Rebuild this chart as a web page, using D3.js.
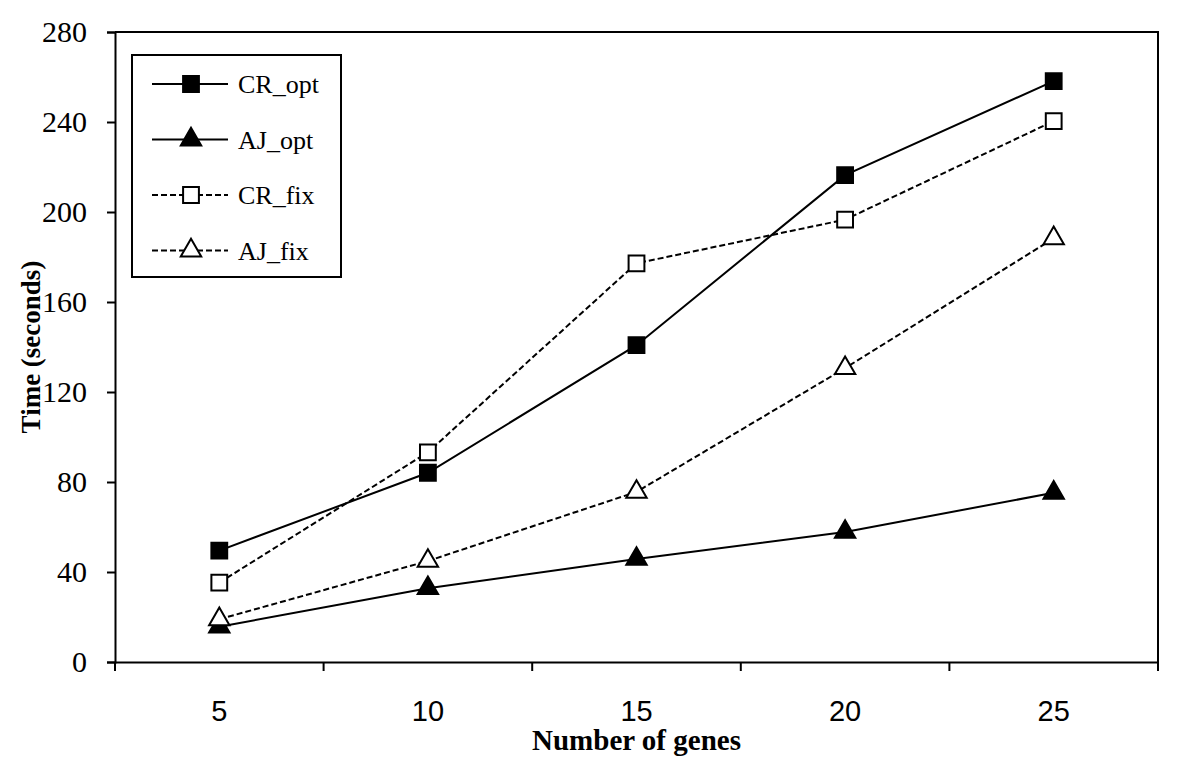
<!DOCTYPE html>
<html>
<head>
<meta charset="utf-8">
<script src="https://cdn.jsdelivr.net/npm/d3@7"></script>
<style>
  body { margin: 0; background: #fff; }
  text { fill: #000; }
</style>
</head>
<body>
<script>
var width = 1200,
    height = 771;

// data
var genes = ["5", "10", "15", "20", "25"];
var crOpt = [49.5, 84.1, 140.8, 216.4, 258.2];
var ajOpt = [15.7, 32.8, 45.8, 57.8, 75.2];
var crFix = [35.3, 93.2, 177.2, 196.6, 240.4];
var ajFix = [19.0, 44.9, 75.6, 130.6, 188.3];
var yTicks = [0, 40, 80, 120, 160, 200, 240, 280];

var series = [
  {name: "CR_opt", values: crOpt, dash: null, symbol: d3.symbolSquare, fill: "#000"},
  {name: "AJ_opt", values: ajOpt, dash: null, symbol: d3.symbolTriangle, fill: "#000"},
  {name: "CR_fix", values: crFix, dash: "6,3", symbol: d3.symbolSquare, fill: "#fff"},
  {name: "AJ_fix", values: ajFix, dash: "6,3", symbol: d3.symbolTriangle, fill: "#fff"}
];

var margin = {left: 115, right: 42, top: 32, bottom: 109};

var svg = d3.select('body').append('svg')
    .attr('width', width)
    .attr('height', height);

var x = d3.scaleBand()
    .domain(genes)
    .range([margin.left, width - margin.right])
    .padding(0);

var y = d3.scaleLinear()
    .domain([0, 280])
    .range([height - margin.bottom, margin.top]);

var serif = "'Liberation Serif', 'Times New Roman', serif";
var sans = "'Liberation Sans', Arial, sans-serif";

/* frame: top and right edges */
svg.append('path')
    .attr('d', 'M' + x.range()[0] + ',' + y(280) + 'H' + x.range()[1] + 'V' + y(0))
    .attr('fill', 'none')
    .attr('stroke', '#000')
    .attr('stroke-width', 2);

/* y axis */
var yAxis = svg.append('g')
    .attr('transform', 'translate(' + margin.left + ',0)')
    .call(d3.axisLeft(y).tickValues(yTicks).tickSize(8).tickPadding(20));
yAxis.select('.domain').attr('stroke-width', 2);
yAxis.selectAll('.tick line').attr('stroke-width', 2);
yAxis.selectAll('.tick text')
    .style('font-family', serif)
    .style('font-size', '30px');

/* x axis: labels centred in bands, ticks on band edges */
var xAxis = svg.append('g')
    .attr('transform', 'translate(0,' + y(0) + ')')
    .call(d3.axisBottom(x).tickSize(0).tickPadding(38));
xAxis.select('.domain').attr('stroke-width', 2);
xAxis.selectAll('.tick text')
    .style('font-family', sans)
    .style('font-size', '29px');

var edges = genes.map(function(g) { return x(g); }).concat([x.range()[1]]);
svg.append('g').selectAll('line')
    .data(edges)
    .enter().append('line')
    .attr('x1', function(d) { return d; })
    .attr('x2', function(d) { return d; })
    .attr('y1', y(0))
    .attr('y2', y(0) + 9)
    .attr('stroke', '#000')
    .attr('stroke-width', 2);

/* axis titles */
svg.append('text')
    .attr('x', x.range()[0] + (x.range()[1] - x.range()[0]) / 2)
    .attr('y', 750)
    .attr('text-anchor', 'middle')
    .style('font-family', serif)
    .style('font-weight', 'bold')
    .style('font-size', '29px')
    .text('Number of genes');

svg.append('text')
    .attr('transform', 'translate(40,' + y(140) + ') rotate(-90)')
    .attr('text-anchor', 'middle')
    .style('font-family', serif)
    .style('font-weight', 'bold')
    .style('font-size', '27px')
    .text('Time (seconds)');

/* lines and markers */
var line = d3.line()
    .x(function(d, i) { return x(genes[i]) + x.bandwidth() / 2; })
    .y(function(d) { return y(d); });

var sym = function(s) { return d3.symbol().type(s.symbol).size(s.symbol === d3.symbolSquare ? 250 : 180); };

series.forEach(function(s) {
  svg.append('path')
      .attr('d', line(s.values))
      .attr('fill', 'none')
      .attr('stroke', '#000')
      .attr('stroke-width', 2)
      .attr('stroke-dasharray', s.dash);

  svg.append('g').selectAll('path')
      .data(s.values)
      .enter().append('path')
      .attr('d', sym(s))
      .attr('transform', function(d, i) {
        return 'translate(' + (x(genes[i]) + x.bandwidth() / 2) + ',' + y(d) + ')';
      })
      .attr('fill', s.fill)
      .attr('stroke', '#000')
      .attr('stroke-width', 2);
});

/* legend */
var legend = svg.append('g');
legend.append('rect')
    .attr('x', 132).attr('y', 55)
    .attr('width', 209).attr('height', 222)
    .attr('fill', '#fff')
    .attr('stroke', '#000')
    .attr('stroke-width', 2);

var item = legend.selectAll('g.item')
    .data(series)
    .enter().append('g')
    .attr('class', 'item')
    .attr('transform', function(d, i) { return 'translate(0,' + (84 + i * 55.5) + ')'; });

item.append('line')
    .attr('x1', 152).attr('x2', 228)
    .attr('stroke', '#000')
    .attr('stroke-width', 2)
    .attr('stroke-dasharray', function(d) { return d.dash; });

item.append('path')
    .attr('d', function(d) { return sym(d)(); })
    .attr('transform', 'translate(191,0)')
    .attr('fill', function(d) { return d.fill; })
    .attr('stroke', '#000')
    .attr('stroke-width', 2);

item.append('text')
    .attr('x', 238)
    .attr('y', 9)
    .style('font-family', serif)
    .style('font-size', '26px')
    .text(function(d) { return d.name; });
</script>
</body>
</html>
